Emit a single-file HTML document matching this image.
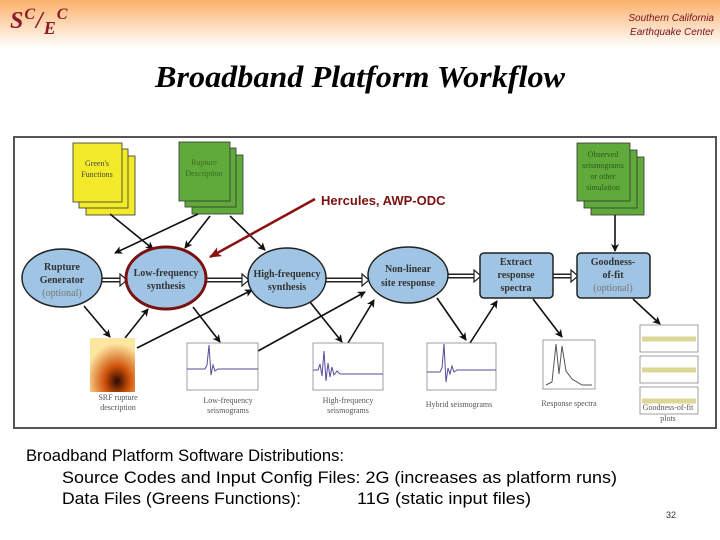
<!DOCTYPE html>
<html><head><style>
body{margin:0;width:720px;height:540px;overflow:hidden;background:#fff;position:relative;font-family:"Liberation Sans",sans-serif}
.hdr{position:absolute;left:0;top:0;width:720px;height:48px;background:linear-gradient(#fbb06a,#fde0c4 60%,#fff)}
</style></head><body>
<div class="hdr"></div>
<div style="position:absolute;left:10px;top:6px;font:italic bold 24px 'Liberation Serif',serif;color:#8b1a2b;letter-spacing:1px">S<sup style="font-size:16px">C</sup>/<sub style="font-size:18px">E</sub><sup style="font-size:16px">C</sup></div>
<div style="position:absolute;right:6px;top:12px;font:italic 10px 'Liberation Sans',sans-serif;color:#7a1020;text-align:right;line-height:14px">Southern California<br>Earthquake Center</div>
<svg width="720" height="540" style="position:absolute;left:0;top:0" font-family="Liberation Serif,serif">
<text x="155" y="87" font-size="31" font-style="italic" font-weight="bold" textLength="410" lengthAdjust="spacingAndGlyphs">Broadband Platform Workflow</text>
<defs>
<marker id="a" markerWidth="8" markerHeight="8" refX="7" refY="4" orient="auto" markerUnits="userSpaceOnUse"><path d="M0,0 L8,4 L0,8 L2,4z" fill="#111"/></marker>
<marker id="r" markerWidth="12" markerHeight="10" refX="11" refY="5" orient="auto" markerUnits="userSpaceOnUse"><path d="M0,0 L12,5 L0,10 L3,5z" fill="#8b1010"/></marker>
</defs>
<rect x="14" y="137" width="702" height="291" fill="#fff" stroke="#555" stroke-width="2"/>
<g stroke="#333" stroke-width="0.8">
<rect x="86" y="156" width="49" height="59" fill="#f3ea2a"/><rect x="79" y="149" width="49" height="59" fill="#f3ea2a"/><rect x="73" y="143" width="49" height="59" fill="#f3ea2a"/>
<rect x="192" y="155" width="51" height="59" fill="#5faa3a"/><rect x="185" y="148" width="51" height="59" fill="#5faa3a"/><rect x="179" y="142" width="51" height="59" fill="#5faa3a"/>
<rect x="591" y="157" width="53" height="58" fill="#5faa3a"/><rect x="584" y="150" width="53" height="58" fill="#5faa3a"/><rect x="577" y="143" width="53" height="58" fill="#5faa3a"/>
</g>
<g font-size="8" text-anchor="middle" fill="#444">
<text x="97" y="166">Green's</text><text x="97" y="177">Functions</text>
<text x="204" y="165" fill="#3a6e20">Rupture</text><text x="204" y="176" fill="#3a6e20">Description</text>
<text x="603" y="157" fill="#2f5a18">Observed</text><text x="603" y="168" fill="#2f5a18">seismograms</text><text x="603" y="179" fill="#2f5a18">or other</text><text x="603" y="190" fill="#2f5a18">simulation</text>
</g>
<g stroke="#111" stroke-width="1.6" fill="none" marker-end="url(#a)">
<line x1="110" y1="214" x2="153" y2="249"/>
<line x1="198" y1="214" x2="115" y2="253"/>
<line x1="210" y1="216" x2="185" y2="248"/>
<line x1="230" y1="216" x2="265" y2="250"/>
<line x1="615" y1="215" x2="615" y2="251"/>
<line x1="84" y1="306" x2="110" y2="337"/>
<line x1="125" y1="338" x2="148" y2="309"/>
<line x1="137" y1="348" x2="252" y2="290"/>
<line x1="193" y1="307" x2="220" y2="342"/>
<line x1="258" y1="351" x2="365" y2="292"/>
<line x1="310" y1="302" x2="342" y2="342"/>
<line x1="348" y1="343" x2="374" y2="300"/>
<line x1="437" y1="298" x2="466" y2="340"/>
<line x1="470" y1="343" x2="497" y2="301"/>
<line x1="533" y1="299" x2="562" y2="337"/>
<line x1="633" y1="299" x2="660" y2="324"/>
</g>
<line x1="315" y1="199" x2="210" y2="257" stroke="#8b1010" stroke-width="2.5" marker-end="url(#r)"/>
<text x="321" y="205" font-family="Liberation Sans,sans-serif" font-size="13" font-weight="bold" fill="#7a1010">Hercules, AWP-ODC</text>
<g>
<g stroke="#222" stroke-width="5"><line x1="102" y1="280" x2="120" y2="280"/><line x1="206" y1="280" x2="242" y2="280"/><line x1="326" y1="280" x2="362" y2="280"/><line x1="448" y1="276" x2="474" y2="276"/><line x1="553" y1="276" x2="571" y2="276"/></g>
<g stroke="#fff" stroke-width="2"><line x1="101" y1="280" x2="121" y2="280"/><line x1="205" y1="280" x2="243" y2="280"/><line x1="325" y1="280" x2="363" y2="280"/><line x1="447" y1="276" x2="475" y2="276"/><line x1="552" y1="276" x2="572" y2="276"/></g>
<g fill="#fff" stroke="#222" stroke-width="1.2"><path d="M120,274 L127,280 L120,286z"/><path d="M242,274 L249,280 L242,286z"/><path d="M362,274 L369,280 L362,286z"/><path d="M474,270 L481,276 L474,282z"/><path d="M571,270 L578,276 L571,282z"/></g>
</g>
<g fill="#9fc4e4" stroke="#222" stroke-width="1.5">
<ellipse cx="62" cy="278" rx="40" ry="29"/>
<ellipse cx="166" cy="278" rx="40" ry="31" stroke="#7a1010" stroke-width="3"/>
<ellipse cx="287" cy="278" rx="39" ry="30"/>
<ellipse cx="408" cy="275" rx="40" ry="28"/>
<rect x="480" y="253" width="73" height="45" rx="4"/>
<rect x="577" y="253" width="73" height="45" rx="4"/>
</g>
<g font-size="10" font-weight="bold" text-anchor="middle" fill="#333">
<text x="62" y="270">Rupture</text><text x="62" y="283">Generator</text><text x="62" y="296" font-weight="normal" fill="#777">(optional)</text>
<text x="166" y="276">Low-frequency</text><text x="166" y="289">synthesis</text>
<text x="287" y="277">High-frequency</text><text x="287" y="290">synthesis</text>
<text x="408" y="272">Non-linear</text><text x="408" y="286">site response</text>
<text x="516" y="265">Extract</text><text x="516" y="278">response</text><text x="516" y="291">spectra</text>
<text x="613" y="265">Goodness-</text><text x="613" y="278">of-fit</text><text x="613" y="291" font-weight="normal" fill="#777">(optional)</text>
</g>
<defs><radialGradient id="h" cx="0.6" cy="0.8" r="0.7"><stop offset="0" stop-color="#2a0a00"/><stop offset="0.4" stop-color="#d0520a"/><stop offset="1" stop-color="#fde6a0"/></radialGradient></defs>
<rect x="90" y="338" width="45" height="54" fill="url(#h)"/>
<g fill="none" stroke="#888" stroke-width="0.8">
<rect x="187" y="343" width="71" height="47"/><rect x="313" y="343" width="70" height="47"/><rect x="427" y="343" width="69" height="47"/><rect x="543" y="340" width="52" height="49"/>
<rect x="640" y="325" width="58" height="27"/><rect x="640" y="356" width="58" height="27"/><rect x="640" y="387" width="58" height="27"/>
</g>
<g stroke="#5a4a9a" stroke-width="1" fill="none">
<path d="M187,369 H205 l2,-4 l2,-20 l2,30 l2,-10 l2,6 l3,-2 H258"/>
<path d="M313,370 H318 l2,-6 l2,12 l2,-25 l2,30 l2,-18 l2,14 l2,-10 l2,8 l3,-4 l3,3 H383"/>
<path d="M427,372 H440 l2,-4 l2,-24 l2,38 l2,-14 l2,6 l2,-8 l2,6 l3,-2 H496"/>
<path d="M546,385 l6,-3 l4,-38 l3,30 l3,-28 l4,25 l6,8 l10,6 h10" stroke="#555"/>
</g>
<g stroke="#c8bd50" stroke-width="5" opacity="0.6"><line x1="642" y1="339" x2="696" y2="339"/><line x1="642" y1="370" x2="696" y2="370"/><line x1="642" y1="401" x2="696" y2="401"/></g>
<g font-size="8" text-anchor="middle" fill="#555">
<text x="118" y="400">SRF rupture</text><text x="118" y="410">description</text>
<text x="228" y="403">Low-frequency</text><text x="228" y="413">seismograms</text>
<text x="348" y="403">High-frequency</text><text x="348" y="413">seismograms</text>
<text x="459" y="407">Hybrid seismograms</text>
<text x="569" y="406">Response spectra</text>
<text x="668" y="410">Goodness-of-fit</text><text x="668" y="421">plots</text>
</g>
<g font-family="Liberation Sans,sans-serif" font-size="16.5" fill="#000">
<text x="26" y="461" textLength="318" lengthAdjust="spacingAndGlyphs">Broadband Platform Software Distributions:</text>
<text x="62" y="483" textLength="555" lengthAdjust="spacingAndGlyphs">Source Codes and Input Config Files: 2G (increases as platform runs)</text>
<text x="62" y="504" textLength="239" lengthAdjust="spacingAndGlyphs">Data Files (Greens Functions):</text>
<text x="357" y="504" textLength="174" lengthAdjust="spacingAndGlyphs">11G (static input files)</text>
</g>
<text x="666" y="518" font-family="Liberation Sans,sans-serif" font-size="9" fill="#333">32</text>
</svg>
</body></html>
